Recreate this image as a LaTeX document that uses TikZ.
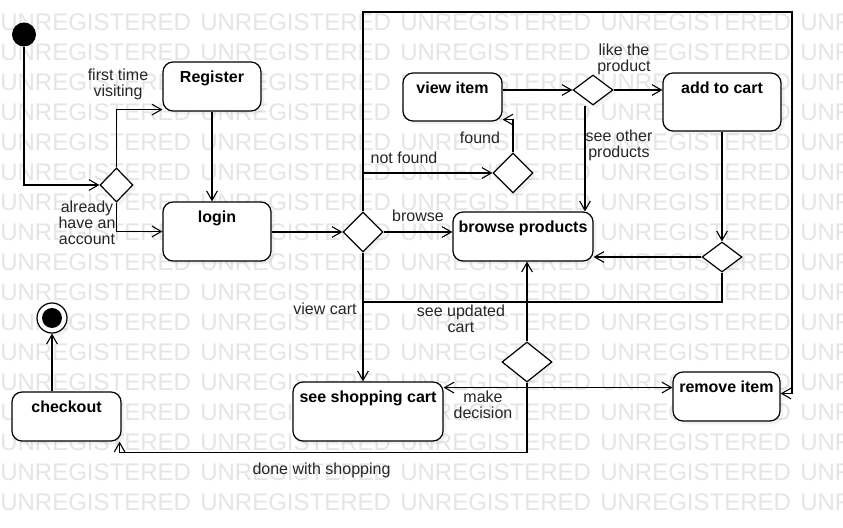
\documentclass[tikz,border=0pt]{standalone}
\usepackage{fontspec}
\setmainfont{Liberation Sans}
\usetikzlibrary{arrows.meta,shapes.geometric,shadows,calc}
\def\pu{0.75pt}
\begin{document}
\begin{tikzpicture}[x=0.75pt,y=-0.75pt,
  every node/.style={font=\fontsize{12}{12}\selectfont},
  st/.style={draw, rounded corners=7.5pt, fill=white, line width=0.9pt, inner sep=0pt,
    drop shadow={opacity=0.1,shadow xshift=2.5pt,shadow yshift=-2.5pt}},
  ttl/.style={font=\bfseries\fontsize{12}{12}\selectfont, anchor=north, inner sep=0pt, yshift=-6.8pt},
  dec/.style={draw, diamond, fill=white, line width=0.9pt, inner sep=0pt,
    drop shadow={opacity=0.1,shadow xshift=2.5pt,shadow yshift=-2.5pt}},
  lbl/.style={align=center, inner sep=0pt, text=black!85},
  wm/.style={font=\fontsize{18}{18}\selectfont, text=black!10, inner sep=0pt, anchor=base west},
  arr/.style={line width=0.8pt, -{Straight Barb[length=7pt,width=8pt]}},
  ln/.style={line width=0.8pt}]
\fill[white] (0,0) rectangle (843,528);
\useasboundingbox (0,0) rectangle (843,528);
% watermark
\begin{scope}
\clip (0,0) rectangle (843,528);
\foreach \r in {0,...,16}{
  \foreach \c in {0,...,4}{
    \node[wm] (wm-\r-\c) at (\c*200, 30.5+\r*30) {UNREGISTERED};
  }
}
\end{scope}
% nodes
\node[circle, fill=black, minimum size=24*\pu, inner sep=0pt] (ini) at (24,34.5) {};
\node[st, minimum width=98*\pu, minimum height=49*\pu, label={[ttl]north:Register}] (reg) at (212,86.5) {};
\node[st, minimum width=108*\pu, minimum height=59*\pu, label={[ttl]north:login}] (login) at (217,231.5) {};
\node[dec, minimum width=33*\pu, minimum height=34*\pu] (d1) at (116.5,185) {};
\node[dec, minimum width=40*\pu, minimum height=40*\pu] (d2) at (363,232) {};
\node[st, minimum width=140*\pu, minimum height=49*\pu, label={[ttl]north:browse products}] (bp) at (523,236.5) {};
\node[dec, minimum width=40*\pu, minimum height=40*\pu] (d3) at (513,173) {};
\node[st, minimum width=99*\pu, minimum height=48*\pu, label={[ttl]north:view item}] (vi) at (452.5,97) {};
\node[dec, minimum width=40*\pu, minimum height=30*\pu] (d4) at (593,90) {};
\node[st, minimum width=118*\pu, minimum height=58*\pu, label={[ttl]north:add to cart}] (atc) at (722,102) {};
\node[dec, minimum width=40*\pu, minimum height=30*\pu] (d5) at (722,257) {};
\node[st, minimum width=150*\pu, minimum height=59*\pu, label={[ttl]north:see shopping cart}] (ssc) at (368,411.5) {};
\node[dec, minimum width=50*\pu, minimum height=40*\pu] (d6) at (527,362) {};
\node[st, minimum width=107*\pu, minimum height=49*\pu, label={[ttl]north:remove item}] (ri) at (726.5,396.5) {};
\node[st, minimum width=109*\pu, minimum height=49*\pu, label={[ttl]north:checkout}] (co) at (66.5,416.5) {};
\node[circle, draw, fill=white, line width=0.9pt, minimum size=30*\pu, inner sep=0pt,
  drop shadow={opacity=0.1,shadow xshift=2.5pt,shadow yshift=-2.5pt}] (fin) at (52,318) {};
\node[circle, fill=black, minimum size=20*\pu, inner sep=0pt] (finc) at (fin.center) {};
% coordinates
\coordinate (upd) at (363,302);
\coordinate (tr) at (792,12);
\coordinate (d4s) at ($(d4.south)+(-8,0)$);
\coordinate (d6b) at ($(d6.south)+(0,5)$);
\coordinate (bot) at ($(d6.south)+(0,70)$);
% edges
\draw[arr] (ini.south) |- (d1.west);
\draw[arr] (d1.north) |- ($(reg.south west)+(0,-2)$);
\draw[arr] (d1.south) |- (login.west);
\draw[arr] (reg.south) -- (reg.south |- login.north);
\draw[arr] (d2.west -| login.east) -- (d2.west);
\draw[arr] (d2.east) -- (d2.east -| bp.west);
\draw[arr] (d2.north) |- (d3.west);
\draw[arr] (d3.north) |- ($(vi.south east)+(0,-2)$);
\draw[arr] (vi.east |- d4.west) -- (d4.west);
\draw[arr] (d4.east) -- (d4.east -| atc.west);
\draw[arr] (d4s) -- (d4s |- bp.north);
\draw[arr] (atc.south) -- (d5.north);
\draw[arr] (d5.west) -- (d5.west -| bp.east);
\draw[ln] (d5.south) |- (upd);
\draw[arr] (d2.south) -- (d2.south |- ssc.north);
\draw[arr] (d6.north) -- (d6.north |- bp.south);
\draw[arr] (d6.south) -- (d6b) -- (d6b -| ssc.east);
\draw[arr] (d6b) -- (d6b -| ri.west);
\draw[arr] (d6b) -- (bot) -| ($(co.south east)+(-2,0)$);
\draw[arr] (d2.north) |- (tr) |- ($(ri.east)+(0,-3)$);
\draw[arr] (co.north -| fin.south) -- (fin.south);
% labels
\node[lbl] (l1) at (118,84) {first time\\visiting};
\node[lbl] (l2) at (87,223) {already\\have an\\account};
\node[lbl] (l3) at (418,216) {browse};
\node[lbl] (l4) at (404,158) {not found};
\node[lbl] (l5) at (480,138) {found};
\node[lbl] (l6) at (624,59) {like the\\product};
\node[lbl] (l7) at (619,145) {see other\\products};
\node[lbl] (l8) at (325,309) {view cart};
\node[lbl] (l9) at (461,319) {see updated\\cart};
\node[lbl] (l10) at (483,405) {make\\decision};
\node[lbl] (l11) at (321.5,470) {done with shopping};
\end{tikzpicture}
\end{document}
